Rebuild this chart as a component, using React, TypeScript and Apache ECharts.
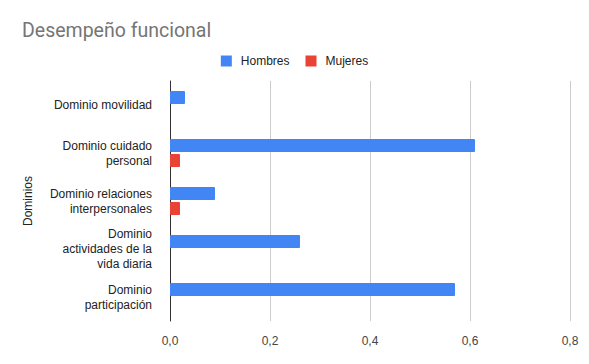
import React, { useEffect, useRef } from "react";
import * as echarts from "echarts";

const categories = [
  "Dominio movilidad",
  "Dominio cuidado\npersonal",
  "Dominio relaciones\ninterpersonales",
  "Dominio\nactividades de la\nvida diaria",
  "Dominio\nparticipación",
];
const hombres = [0.03, 0.61, 0.09, 0.26, 0.57];
const mujeres = [0, 0.02, 0.02, 0, 0];
const xTicks = [0, 0.2, 0.4, 0.6, 0.8];

const FONT = "'Liberation Sans', Arial, sans-serif";

export default function App() {
  const ref = useRef<HTMLDivElement>(null);
  useEffect(() => {
    if (!ref.current) return;
    const chart = echarts.init(ref.current, undefined, { renderer: "svg" });
    chart.setOption({
      animation: false,
      backgroundColor: "#ffffff",
      textStyle: { fontFamily: FONT },
      title: {
        text: "Desempeño funcional",
        left: 17,
        top: 15,
        textStyle: { fontSize: 19.5, fontWeight: "normal", color: "#757575", fontFamily: "Roboto, Arial, sans-serif" },
      },
      legend: {
        top: 50,
        left: "center",
        icon: "rect",
        itemWidth: 11,
        itemHeight: 11,
        itemGap: 16,
        textStyle: { fontSize: 12, color: "#222", fontFamily: FONT, padding: [0, 0, 0, 4] },
        data: ["Hombres", "Mujeres"],
      },
      grid: { left: 170, right: 19, top: 81, bottom: 43, containLabel: false },
      xAxis: {
        type: "value",
        min: xTicks[0],
        max: xTicks[xTicks.length - 1],
        interval: 0.2,
        axisLine: { show: false },
        axisTick: { show: false },
        axisLabel: {
          color: "#444",
          fontSize: 12,
          margin: 14,
          fontFamily: FONT,
          formatter: (v: number) => v.toFixed(1).replace(".", ","),
        },
        splitLine: { lineStyle: { color: "#cccccc", width: 1 } },
      },
      yAxis: {
        type: "category",
        inverse: true,
        data: categories,
        name: "Dominios",
        nameLocation: "middle",
        nameGap: 136,
        nameRotate: 90,
        nameTextStyle: { fontSize: 12, color: "#222", fontFamily: FONT },
        axisLine: { lineStyle: { color: "#333", width: 1 } },
        axisTick: { length: 10, alignWithLabel: true, lineStyle: { color: "#333" } },
        axisLabel: { color: "#222", fontSize: 12, margin: 18, lineHeight: 15, align: "right", fontFamily: FONT },
      },
      series: [
        {
          name: "Hombres",
          type: "bar",
          data: hombres,
          barWidth: 13,
          barGap: "15%",
          itemStyle: { color: "#4285F4", borderRadius: 1 },
        },
        {
          name: "Mujeres",
          type: "bar",
          data: mujeres,
          barWidth: 13,
          itemStyle: { color: "#EA4335", borderRadius: 1 },
        },
      ],
    });
    return () => chart.dispose();
  }, []);
  return <div ref={ref} style={{ width: 589, height: 364, position: "absolute", left: 0, top: 0 }} />;
}
